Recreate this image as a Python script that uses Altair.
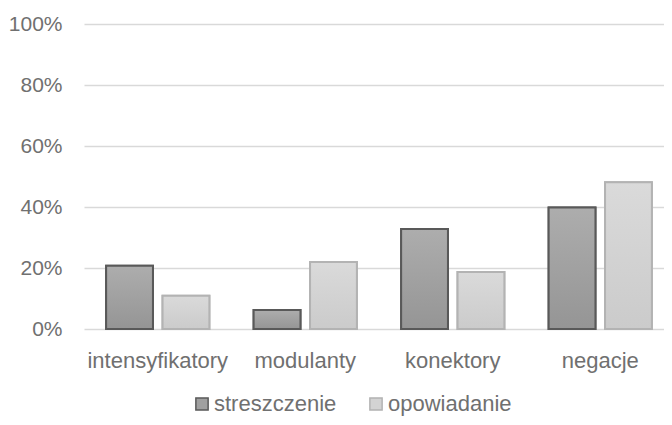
import altair as alt
import pandas as pd

categories = ["intensyfikatory", "modulanty", "konektory", "negacje"]
series = ["streszczenie", "opowiadanie"]
streszczenie = [0.207, 0.062, 0.328, 0.398]
opowiadanie = [0.109, 0.220, 0.187, 0.481]

rows = []
for c, a, b in zip(categories, streszczenie, opowiadanie):
    rows.append({"kat": c, "seria": series[0], "val": a})
    rows.append({"kat": c, "seria": series[1], "val": b})
df = pd.DataFrame(rows)

FONT = "Liberation Sans"
TXT = "#707070"

x = alt.X("kat:N", sort=categories, title=None,
          scale=alt.Scale(paddingInner=0.3, paddingOuter=0.15, range=[0, 590]),
          axis=alt.Axis(labelAngle=0, ticks=False, domain=False, grid=False,
                        labelFont=FONT, labelFontSize=22, labelColor=TXT,
                        labelPadding=21))
xo = alt.XOffset("seria:N", sort=series,
                 scale=alt.Scale(domain=series, paddingInner=0.17, paddingOuter=0))
y = alt.Y("val:Q", title=None,
          scale=alt.Scale(domain=[0, 1], nice=False),
          axis=alt.Axis(values=[0, 0.2, 0.4, 0.6, 0.8, 1.0], format=".0%",
                        ticks=False, domain=False, grid=True,
                        gridColor="#d9d9d9", gridWidth=1.6,
                        labelFont=FONT, labelFontSize=21, labelColor=TXT,
                        labelPadding=22))

base = alt.Chart(df).encode(x=x, xOffset=xo, y=y)

leg = alt.Legend(title=None, orient="none", direction="horizontal",
                 legendX=107, legendY=369,
                 symbolType="square", symbolSize=150,
                 symbolStrokeWidth=1.5,
                 labelFont=FONT, labelFontSize=22, labelColor=TXT,
                 labelOffset=1, columnPadding=28)

legend_bars = base.mark_bar(strokeWidth=2).encode(
    fill=alt.Fill("seria:N", sort=series,
                  scale=alt.Scale(domain=series, range=["#a0a0a0", "#d3d3d3"]),
                  legend=leg),
    stroke=alt.Stroke("seria:N", sort=series,
                      scale=alt.Scale(domain=series, range=["#595959", "#b3b3b3"]),
                      legend=leg),
)

grad_dark = alt.LinearGradient(
    gradient="linear", x1=0, y1=0, x2=0, y2=1,
    stops=[alt.GradientStop(offset=0, color="#adadad"),
           alt.GradientStop(offset=1, color="#959595")])
grad_light = alt.LinearGradient(
    gradient="linear", x1=0, y1=0, x2=0, y2=1,
    stops=[alt.GradientStop(offset=0, color="#dadada"),
           alt.GradientStop(offset=1, color="#cbcbcb")])

dark = base.transform_filter(alt.datum.seria == series[0]).mark_bar(
    fill=grad_dark, stroke="#595959", strokeWidth=2)
light = base.transform_filter(alt.datum.seria == series[1]).mark_bar(
    fill=grad_light, stroke="#b3b3b3", strokeWidth=2)

chart = alt.layer(legend_bars, dark, light).properties(
    width=580, height=305,
    background="white",
    autosize=alt.AutoSizeParams(type="none"),
    padding={"left": 76, "top": 16, "right": 0, "bottom": 88},
).configure_view(stroke="transparent").configure_axis(
    domain=False, ticks=False
).configure_axisX(grid=False)

chart.save("out.html", embed_options={"renderer": "svg", "actions": False})
